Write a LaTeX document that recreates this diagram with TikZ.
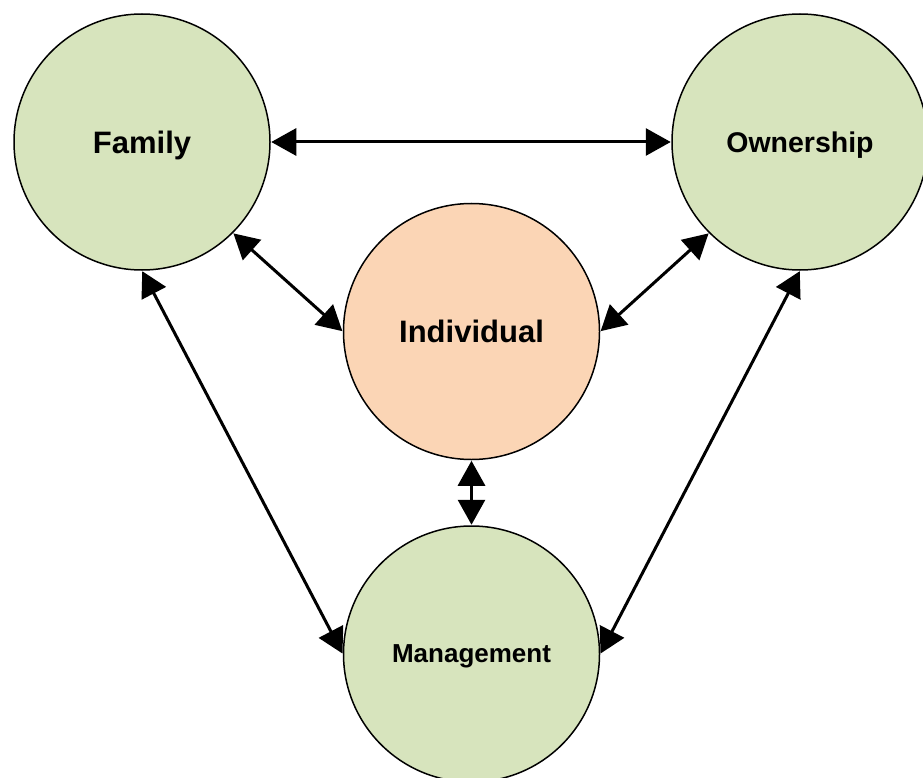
\documentclass[tikz,border=0pt]{standalone}
\usepackage{fontspec}
\setmainfont{Liberation Sans}
\usetikzlibrary{arrows.meta}
\definecolor{sphere}{HTML}{D7E4BD}
\definecolor{self}{HTML}{FBD5B5}
\begin{document}
\begin{tikzpicture}[x=1pt,y=-1pt,
  sys/.style={circle,draw=black,line width=1.5pt,fill=sphere,minimum size=256pt,inner sep=0pt,text depth=0pt,font=\bfseries},
  link/.style={line width=3pt,{Triangle[length=25pt,width=27pt]}-{Triangle[length=25pt,width=27pt]},shorten <=0.5pt,shorten >=0.5pt}]
  \useasboundingbox (0,0) rectangle (923,778);
  \node[sys,font=\bfseries\fontsize{31}{36}\selectfont] (fam) at (142,142) {Family};
  \node[sys,font=\bfseries\fontsize{28.5}{34}\selectfont] (own) at (800,142) {Ownership};
  \node[sys,fill=self,font=\bfseries\fontsize{31}{36}\selectfont] (ind) at (471.5,331.5) {Individual};
  \node[sys,font=\bfseries\fontsize{26}{30}\selectfont] (mgt) at (471.5,654) {Management};
  \draw[link] (fam.east) -- (own.west);
  \draw[link] (fam.-45) -- (ind.west);
  \draw[link] (own.-135) -- (ind.east);
  \draw[link] (fam.south) -- (mgt.west);
  \draw[link] (own.south) -- (mgt.east);
  \draw[link] (ind.south) -- (mgt.north);
\end{tikzpicture}
\end{document}
